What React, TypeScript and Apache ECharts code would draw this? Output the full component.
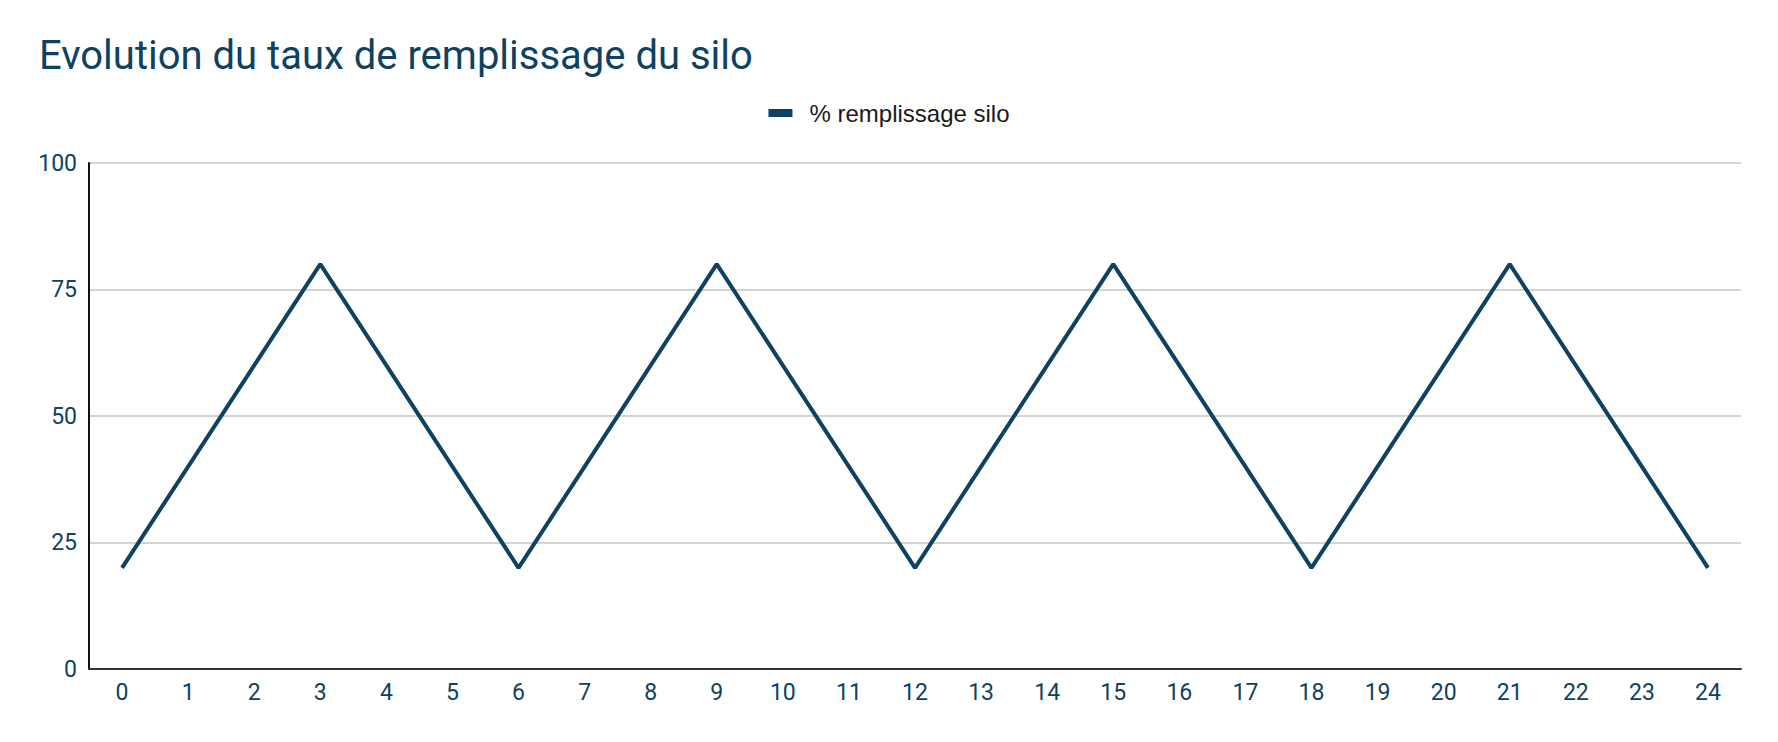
import React, { useEffect, useRef } from "react";
import * as echarts from "echarts";

const hours = ["0","1","2","3","4","5","6","7","8","9","10","11","12","13","14","15","16","17","18","19","20","21","22","23","24"];
const fillRate = [20,40,60,80,60,40,20,40,60,80,60,40,20,40,60,80,60,40,20,40,60,80,60,40,20];
const yTicks = { min: 0, max: 100, interval: 25 };
const seriesName = "% remplissage silo";
const titleText = "Evolution du taux de remplissage du silo";

const DARK = "#0e4260";

export default function App() {
  const ref = useRef<HTMLDivElement>(null);
  useEffect(() => {
    document.body.style.margin = "0";
    const chart = echarts.init(ref.current!, null, { renderer: "svg" });
    chart.setOption({
      animation: false,
      backgroundColor: "#ffffff",
      title: {
        text: titleText,
        left: 34,
        top: 30,
        textStyle: { fontFamily: "Roboto", fontSize: 40, fontWeight: "normal", color: DARK },
      },
      legend: {
        data: [seriesName],
        top: 96,
        left: "center",
        icon: "rect",
        itemWidth: 24,
        itemHeight: 8,
        itemGap: 16,
        textStyle: { fontFamily: "Liberation Sans, Arial", fontSize: 24, color: "#1a1a1a", padding: [0, 0, 0, 12] },
      },
      grid: { left: 89, right: 37, top: 163, bottom: 73, containLabel: false },
      xAxis: {
        type: "category",
        data: hours,
        boundaryGap: true,
        axisLine: { show: true, lineStyle: { color: "#333333", width: 2 } },
        axisTick: { show: false },
        axisLabel: { fontFamily: "Roboto", fontSize: 23, color: DARK, margin: 12 },
        splitLine: { show: false },
      },
      yAxis: {
        type: "value",
        min: yTicks.min,
        max: yTicks.max,
        interval: yTicks.interval,
        axisLine: { show: true, lineStyle: { color: "#111111", width: 2 } },
        axisTick: { show: false },
        axisLabel: { fontFamily: "Roboto", fontSize: 23, color: DARK, margin: 12 },
        splitLine: { show: true, lineStyle: { color: "#c6c6c6", width: 1.5 } },
      },
      series: [
        {
          name: seriesName,
          type: "line",
          data: fillRate,
          showSymbol: false,
          symbol: "none",
          lineStyle: { color: DARK, width: 4 },
          itemStyle: { color: DARK },
        },
      ],
    });
    return () => chart.dispose();
  }, []);
  return <div ref={ref} style={{ position: "fixed", left: 0, top: 0, width: 1778, height: 742 }} />;
}
